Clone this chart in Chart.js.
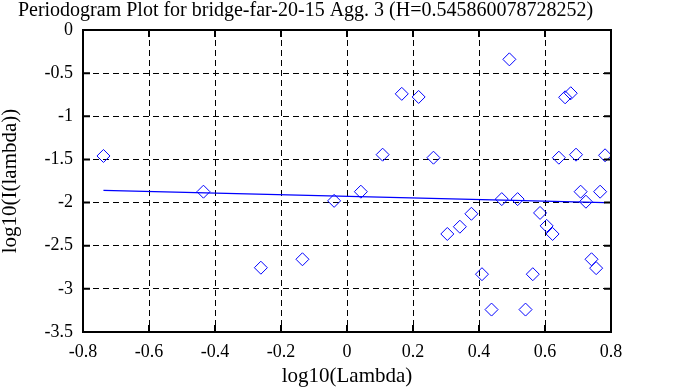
<!DOCTYPE html>
<html>
<head>
<meta charset="utf-8">
<script src="https://cdn.jsdelivr.net/npm/chart.js@4/dist/chart.umd.min.js"></script>
<style>
  html, body { margin: 0; padding: 0; background: #fff; }
  #wrap { width: 683px; height: 387px; }
</style>
</head>
<body>
<div id="wrap"><canvas id="periodogram"></canvas></div>
<script>
// periodogram points (log10 lambda, log10 I(lambda))
const lambdaLog = [-0.738, -0.435, -0.039, -0.261, -0.135, 0.042, 0.108, 0.166, 0.217,
  0.262, 0.304, 0.342, 0.377, 0.409, 0.438, 0.469, 0.492, 0.517, 0.541, 0.563,
  0.585, 0.605, 0.623, 0.642, 0.661, 0.678, 0.694, 0.708, 0.724, 0.741, 0.755,
  0.767, 0.782];
const powerLog = [-1.46, -1.874, -1.98, -2.755, -2.657, -1.874, -1.445, -0.74, -0.776,
  -1.48, -2.364, -2.28, -2.13, -2.83, -3.24, -1.96, -0.34, -1.96, -3.24, -2.83,
  -2.12, -2.27, -2.364, -1.48, -0.78, -0.733, -1.445, -1.874, -1.99, -2.657, -2.76,
  -1.874, -1.452];

// fitted regression line (end points)
const fitX = [-0.738, 0.782];
const fitY = [-1.858, -2.0];

const xTicks = [-0.8, -0.6, -0.4, -0.2, 0, 0.2, 0.4, 0.6, 0.8];
const yTicks = [0, -0.5, -1, -1.5, -2, -2.5, -3, -3.5];

const serif = 'Liberation Serif';

// frame and inward tick marks on all four sides
const framePlugin = {
  id: 'frame',
  afterDatasetsDraw(chart) {
    const { ctx, chartArea: a, scales } = chart;
    ctx.save();
    ctx.strokeStyle = '#000';
    ctx.lineWidth = 2;
    ctx.setLineDash([]);
    ctx.strokeRect(a.left, a.top, a.right - a.left, a.bottom - a.top);
    ctx.beginPath();
    xTicks.forEach(v => {
      const px = scales.x.getPixelForValue(v);
      ctx.moveTo(px, a.bottom); ctx.lineTo(px, a.bottom - 7);
      ctx.moveTo(px, a.top); ctx.lineTo(px, a.top + 7);
    });
    yTicks.forEach(v => {
      const py = scales.y.getPixelForValue(v);
      ctx.moveTo(a.left, py); ctx.lineTo(a.left + 7, py);
      ctx.moveTo(a.right, py); ctx.lineTo(a.right - 7, py);
    });
    ctx.stroke();
    ctx.restore();
  }
};

const points = lambdaLog.map((x, i) => ({ x: x, y: powerLog[i] }));
const fit = fitX.map((x, i) => ({ x: x, y: fitY[i] }));

const ctx = document.getElementById('periodogram').getContext('2d');
const chart = new Chart(ctx, {
  type: 'scatter',
  data: {
    datasets: [{
      data: points,
      pointStyle: 'rectRot',
      pointRadius: 6.5,
      pointBorderWidth: 1,
      pointBorderColor: '#0000ff',
      pointBackgroundColor: 'rgba(0,0,0,0)',
      showLine: false
    }, {
      type: 'line',
      data: fit,
      borderColor: '#0000ff',
      borderWidth: 1.3,
      pointRadius: 0,
      fill: false
    }]
  },
  options: {
    responsive: true,
    maintainAspectRatio: false,
    animation: false,
    layout: { padding: { left: 0, right: 72, top: 0, bottom: 0 } },
    plugins: {
      legend: { display: false },
      tooltip: { enabled: false },
      title: {
        display: true,
        text: 'Periodogram Plot for bridge-far-20-15 Agg. 3 (H=0.545860078728252)',
        color: '#000',
        font: { family: serif, size: 20, weight: 'normal', lineHeight: 1 },
        padding: { top: 1, bottom: 9 }
      }
    },
    scales: {
      x: {
        type: 'linear',
        min: -0.8,
        max: 0.8,
        afterBuildTicks: s => { s.ticks = xTicks.map(v => ({ value: v })); },
        afterFit: s => { s.height = 55; },
        ticks: {
          color: '#000',
          font: { family: serif, size: 18 },
          padding: 9,
          maxRotation: 0,
          callback: v => String(v)
        },
        grid: { color: '#000', lineWidth: 1, drawTicks: false },
        border: { display: false, dash: [6, 4] },
        title: {
          display: true,
          text: 'log10(Lambda)',
          color: '#000',
          font: { family: serif, size: 21, lineHeight: 1 },
          padding: { top: 0, bottom: 0 }
        }
      },
      y: {
        type: 'linear',
        min: -3.5,
        max: 0,
        afterBuildTicks: s => { s.ticks = yTicks.map(v => ({ value: v })); },
        afterFit: s => { s.width = 83; },
        ticks: {
          color: '#000',
          font: { family: serif, size: 18 },
          padding: 10,
          callback: v => String(v)
        },
        grid: { color: '#000', lineWidth: 1, drawTicks: false },
        border: { display: false, dash: [6, 4] },
        title: {
          display: true,
          text: 'log10(I(lambda))',
          color: '#000',
          font: { family: serif, size: 21, lineHeight: 1 },
          padding: { top: 0, bottom: 0 }
        }
      }
    }
  },
  plugins: [framePlugin]
});
</script>
</body>
</html>
